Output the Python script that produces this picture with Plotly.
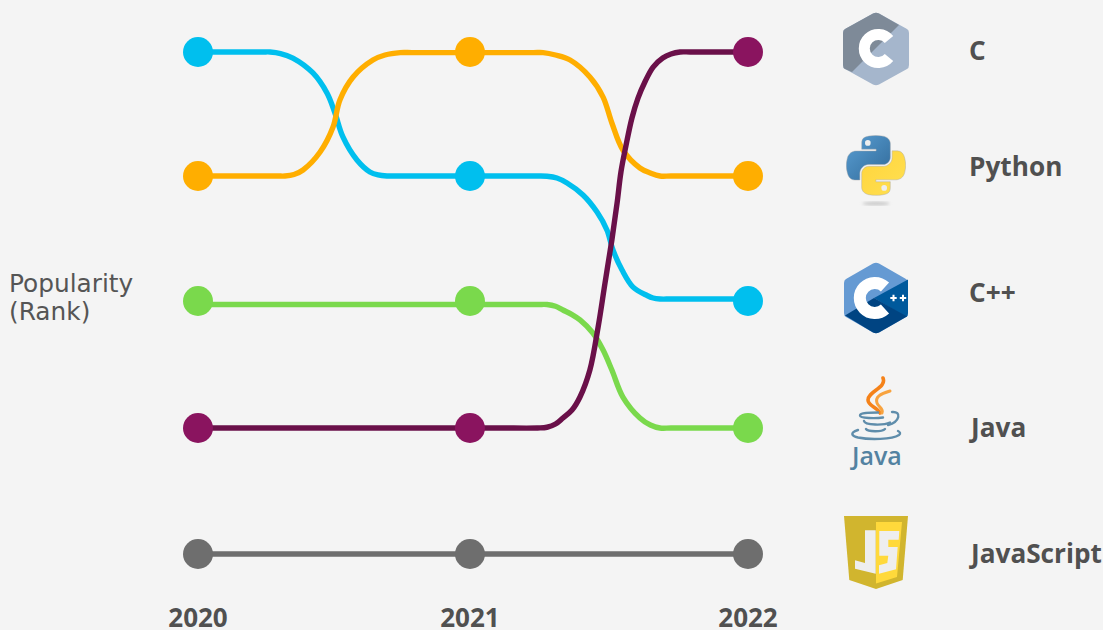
import base64
import plotly.graph_objects as go

# ---------- data ----------
row_labels = ["C", "Python", "C++", "Java", "JavaScript"]
year_labels = ["2020", "2021", "2022"]
year_pos = [2020, 2020.989, 2022]
rank_pos = {1: 1, 2: 1.988, 3: 2.984, 4: 3.996, 5: 5}

rank_blue = [1, 2, 3]
rank_orange = [2, 1, 2]
rank_green = [3, 3, 4]
rank_purple = [4, 4, 1]
rank_gray = [5, 5, 5]

# curve course between the years
blue_x = [2020, 2020.15, 2020.236, 2020.262, 2020.30, 2020.345, 2020.418, 2020.469, 2020.498, 2020.527, 2020.578, 2020.625, 2020.655, 2020.687, 2020.72, 2020.85, 2020.989,
          2021.1, 2021.235, 2021.269, 2021.305, 2021.342, 2021.4, 2021.451, 2021.487, 2021.509, 2021.542, 2021.582, 2021.633, 2021.655, 2021.68, 2021.72, 2021.85, 2022]
blue_y = [1, 1, 1, 1, 1.012, 1.048, 1.167, 1.327, 1.486, 1.677, 1.861, 1.956, 1.98, 1.988, 1.988, 1.988, 1.988,
          1.988, 1.988, 1.99, 2.004, 2.044, 2.139, 2.275, 2.418, 2.578, 2.737, 2.873, 2.94, 2.96, 2.968, 2.968, 2.968, 2.968]
orange_x = [2020, 2020.2, 2020.29, 2020.316, 2020.349, 2020.382, 2020.444, 2020.491, 2020.516, 2020.564, 2020.636, 2020.68, 2020.735, 2020.778, 2020.9, 2020.989,
            2021.1, 2021.22, 2021.255, 2021.30, 2021.353, 2021.425, 2021.473, 2021.505, 2021.545, 2021.607, 2021.645, 2021.68, 2021.72, 2021.85, 2022]
orange_y = [1.988, 1.988, 1.988, 1.988, 1.976, 1.94, 1.797, 1.598, 1.382, 1.199, 1.064, 1.024, 1.005, 1.005, 1.005, 1.005,
            1.005, 1.005, 1.005, 1.024, 1.064, 1.199, 1.359, 1.566, 1.781, 1.924, 1.964, 1.988, 1.988, 1.988, 1.988]
green_x = [2020, 2020.5, 2020.989, 2021.1, 2021.235, 2021.269, 2021.30, 2021.327, 2021.36, 2021.389, 2021.436, 2021.473, 2021.505, 2021.545, 2021.607, 2021.645, 2021.68, 2021.72, 2021.85, 2022]
green_y = [3.012, 3.012, 3.012, 3.012, 3.012, 3.012, 3.026, 3.056, 3.092, 3.135, 3.239, 3.375, 3.534, 3.749, 3.916, 3.972, 3.996, 3.996, 3.996, 3.996]
purple_x = [2020, 2020.5, 2020.989, 2021.1, 2021.235, 2021.269, 2021.30, 2021.327, 2021.36, 2021.389, 2021.425, 2021.455, 2021.48, 2021.505, 2021.524, 2021.538, 2021.556, 2021.578, 2021.60, 2021.625, 2021.655, 2021.69, 2021.72, 2021.753, 2021.79, 2021.9, 2022]
purple_y = [3.996, 3.996, 3.996, 3.996, 3.996, 3.99, 3.964, 3.916, 3.853, 3.749, 3.534, 3.191, 2.841, 2.498, 2.203, 1.956, 1.749, 1.526, 1.367, 1.239, 1.12, 1.048, 1.016, 1, 1, 1, 1]
gray_x = [2020, 2020.989, 2022]
gray_y = [5, 5, 5]

BLUE, ORANGE, GREEN, GRAY = "#00BFEE", "#FFAE00", "#7AD94C", "#6E6E6E"
PURPLE_LINE, PURPLE_DOT = "#6A1049", "#8A145F"
BG, TEXT = "#F4F4F4", "#505050"

fig = go.Figure()

def curve(x, y, color):
    fig.add_trace(go.Scatter(x=x, y=y, mode="lines", showlegend=False, hoverinfo="skip",
                             line=dict(color=color, width=5.4, shape="spline", smoothing=1.0)))

curve(gray_x, gray_y, GRAY)
curve(green_x, green_y, GREEN)
curve(blue_x, blue_y, BLUE)
curve(orange_x, orange_y, ORANGE)
curve(purple_x, purple_y, PURPLE_LINE)

def dots(ranks, color):
    fig.add_trace(go.Scatter(x=year_pos, y=[rank_pos[r] for r in ranks], mode="markers",
                             showlegend=False, marker=dict(color=color, size=30, line=dict(width=0))))

dots(rank_gray, GRAY)
dots(rank_green, GREEN)
dots(rank_blue, BLUE)
dots(rank_orange, ORANGE)
dots(rank_purple, PURPLE_DOT)

# ---------- icons ----------
def uri(svg):
    return "data:image/svg+xml;base64," + base64.b64encode(svg.encode()).decode()

c_svg = """<svg xmlns="http://www.w3.org/2000/svg" viewBox="0 0 66 74">
<path d="M30,1.5 Q33,0 36,1.5 L64,17 Q66,18 66,21 L66,53 Q66,56 64,57 L36,72.5 Q33,74 30,72.5 L2,57 Q0,56 0,53 L0,21 Q0,18 2,17 Z" fill="#A5B6CC"/>
<path d="M30,1.5 Q33,0 36,1.5 L56,13 L9,60 L2,57 Q0,56 0,53 L0,21 Q0,18 2,17 Z" fill="#7E8A98"/>
<path d="M46,27.5 A14,14 0 1 0 46,45.5" fill="none" stroke="#fff" stroke-width="11"/></svg>"""

cpp_svg = """<svg xmlns="http://www.w3.org/2000/svg" viewBox="0 0 64 72">
<path d="M29,1.5 Q32,0 35,1.5 L62,17 Q64,18 64,21 L64,51 Q64,54 62,55 L35,70.5 Q32,72 29,70.5 L2,55 Q0,54 0,51 L0,21 Q0,18 2,17 Z" fill="#659AD3"/>
<path d="M30,36 L64,17.5 L64,51 Q64,54 62,55 Z" fill="#00599C"/>
<path d="M1,53.5 L30,36 L63,54.5 L35,70.5 Q32,72 29,70.5 Z" fill="#004482"/>
<path d="M41,25 A15,15 0 1 0 41,47" fill="none" stroke="#fff" stroke-width="12"/>
<path d="M49.5,32.8 v6.4 M46.3,36 h6.4 M59,32.8 v6.4 M55.8,36 h6.4" stroke="#fff" stroke-width="2"/></svg>"""

py_path = "M54.9,0.9 C50.3,0.9 45.9,1.3 42.1,2 C30.8,4 28.8,8.1 28.8,15.7 L28.8,25.8 L55.2,25.8 L55.2,29.2 L18.9,29.2 C11.2,29.2 4.5,33.8 2.4,42.5 C0,52.4 -0.1,58.6 2.4,68.9 C4.3,76.6 8.7,82.1 16.3,82.1 L25.4,82.1 L25.4,70 C25.4,61.4 32.9,53.8 41.8,53.8 L68.1,53.8 C75.4,53.8 81.3,47.8 81.3,40.5 L81.3,15.7 C81.3,8.6 75.3,3.3 68.1,2.1 C63.6,1.3 58.9,0.9 54.9,0.9 Z"
py_svg = f"""<svg xmlns="http://www.w3.org/2000/svg" viewBox="0 0 110 135">
<defs><linearGradient id="b" x1="0" y1="0" x2="1" y2="1"><stop offset="0" stop-color="#5A9FD4"/><stop offset="1" stop-color="#306998"/></linearGradient>
<linearGradient id="y" x1="0" y1="0" x2="1" y2="1"><stop offset="0" stop-color="#FFE052"/><stop offset="1" stop-color="#FFD43B"/></linearGradient>
<filter id="s"><feGaussianBlur stdDeviation="3"/></filter></defs>
<path d="{py_path}" fill="url(#b)" stroke="#aaa" stroke-width=".8"/>
<path transform="rotate(180 55 55.5)" d="{py_path}" fill="url(#y)" stroke="#aaa" stroke-width=".8"/>
<circle cx="40" cy="14.5" r="5.2" fill="#eee"/><circle cx="70" cy="96.5" r="5.2" fill="#eee"/>
<ellipse cx="55" cy="125" rx="25" ry="3.5" fill="#ccc" filter="url(#s)"/></svg>"""

java_svg = """<svg xmlns="http://www.w3.org/2000/svg" viewBox="0 0 54 70">
<g fill="none" stroke-linecap="round">
<path d="M33,2 C37,12 18,15 18,24 C18,30 27,31 30,37" stroke="#F58219" stroke-width="3.6"/>
<path d="M40,15 C30,18 25,21 27,27 C28,31 34,32 32,37" stroke="#F8A33F" stroke-width="3"/>
<g stroke="#5F8DAB" stroke-width="2.4">
<path d="M28,36.5 C20,36.5 10,37 10,39.5 C10,42.5 26,42.5 33,41.5"/>
<path d="M14,45 C15,49.5 34,49.5 40,46.5"/>
<path d="M16,53 C18,56 32,56 35,53"/>
<path d="M8,54 C-1,57 2,60 8,61.5 C20,64 42,63.5 49,59 C51,57.5 50,56 48,55"/>
<path d="M42,36 C52,35 50,46 38,49"/>
</g></g></svg>"""

js_svg = """<svg xmlns="http://www.w3.org/2000/svg" viewBox="0 0 64 73">
<path d="M0,0 L64,0 L58.7,64 L32,73 L5.3,64 Z" fill="#D1B52E"/>
<path d="M32,6 L58,6 L53,61 L32,67.5 Z" fill="#FFD93B"/>
<path d="M21,14.3 L31.7,14.3 L31.7,57.7 L11,52.7 L11,44.3 L21,47 Z" fill="#EEE"/>
<path d="M35.3,15 L55.3,15 L54.7,23.7 L44.3,23.7 L44.3,31 L53.7,31 L52,53.3 L35,57.7 L35,49.3 L43.3,47 L44.3,39.7 L35.3,39.7 Z" fill="#EEE"/></svg>"""

W, H, PH = 1103, 630, 600  # PH: plot-area height ("paper" spans the plot area)

def icon(svg, x0, y0, x1, y1):
    return dict(source=uri(svg), xref="paper", yref="paper", xanchor="left", yanchor="top",
                x=x0 / W, y=1 - y0 / PH, sizex=(x1 - x0) / W, sizey=(y1 - y0) / PH,
                sizing="stretch", layer="above")

images = [
    icon(c_svg, 843, 12, 909, 86),
    icon(py_svg, 846, 135, 906, 209),
    icon(cpp_svg, 844, 262, 908, 334),
    icon(java_svg, 850, 376, 904, 446),
    icon(js_svg, 844, 516, 908, 589),
]

def label(text, px, py, font, xanchor="left"):
    return dict(text=text, xref="paper", yref="paper", x=px / W, y=1 - py / PH, xanchor=xanchor,
                yanchor="middle", showarrow=False, align="left", font=font)

bold = dict(family="Open Sans", size=26.2, color=TEXT, weight=700)
annotations = [label(n, 967, py, bold) for n, py in zip(row_labels, [50, 166, 292, 427, 553])]
side = dict(family="DejaVu Sans", size=24.8, color="#555555")
annotations += [label("Popularity", 7, 283, side), label("(Rank)", 7, 311, side)]
annotations.append(label("Java", 876, 455, dict(family="Open Sans", size=25, color="#5382A1", weight=600), "center"))

fig.update_layout(
    width=W, height=H, autosize=False,
    margin=dict(l=0, r=0, t=0, b=30, pad=0),
    paper_bgcolor=BG, plot_bgcolor=BG,
    showlegend=False, hovermode=False,
    images=images, annotations=annotations,
    xaxis=dict(range=[2019.28, 2023.290909], tickmode="array", tickvals=year_pos, ticktext=year_labels,
               showgrid=False, zeroline=False, showline=False, ticks="", ticklabelstandoff=0, automargin=False,
               tickfont=dict(family="Open Sans", size=26, color=TEXT, weight=700), fixedrange=True),
    yaxis=dict(range=[5.36646, 0.58566], showgrid=False, zeroline=False, showline=False, automargin=False,
               showticklabels=False, ticks="", fixedrange=True),
)

fig.write_html("out.html", config=dict(displayModeBar=False),
               post_script="document.body.style.margin='0';document.documentElement.style.overflow='hidden';")
